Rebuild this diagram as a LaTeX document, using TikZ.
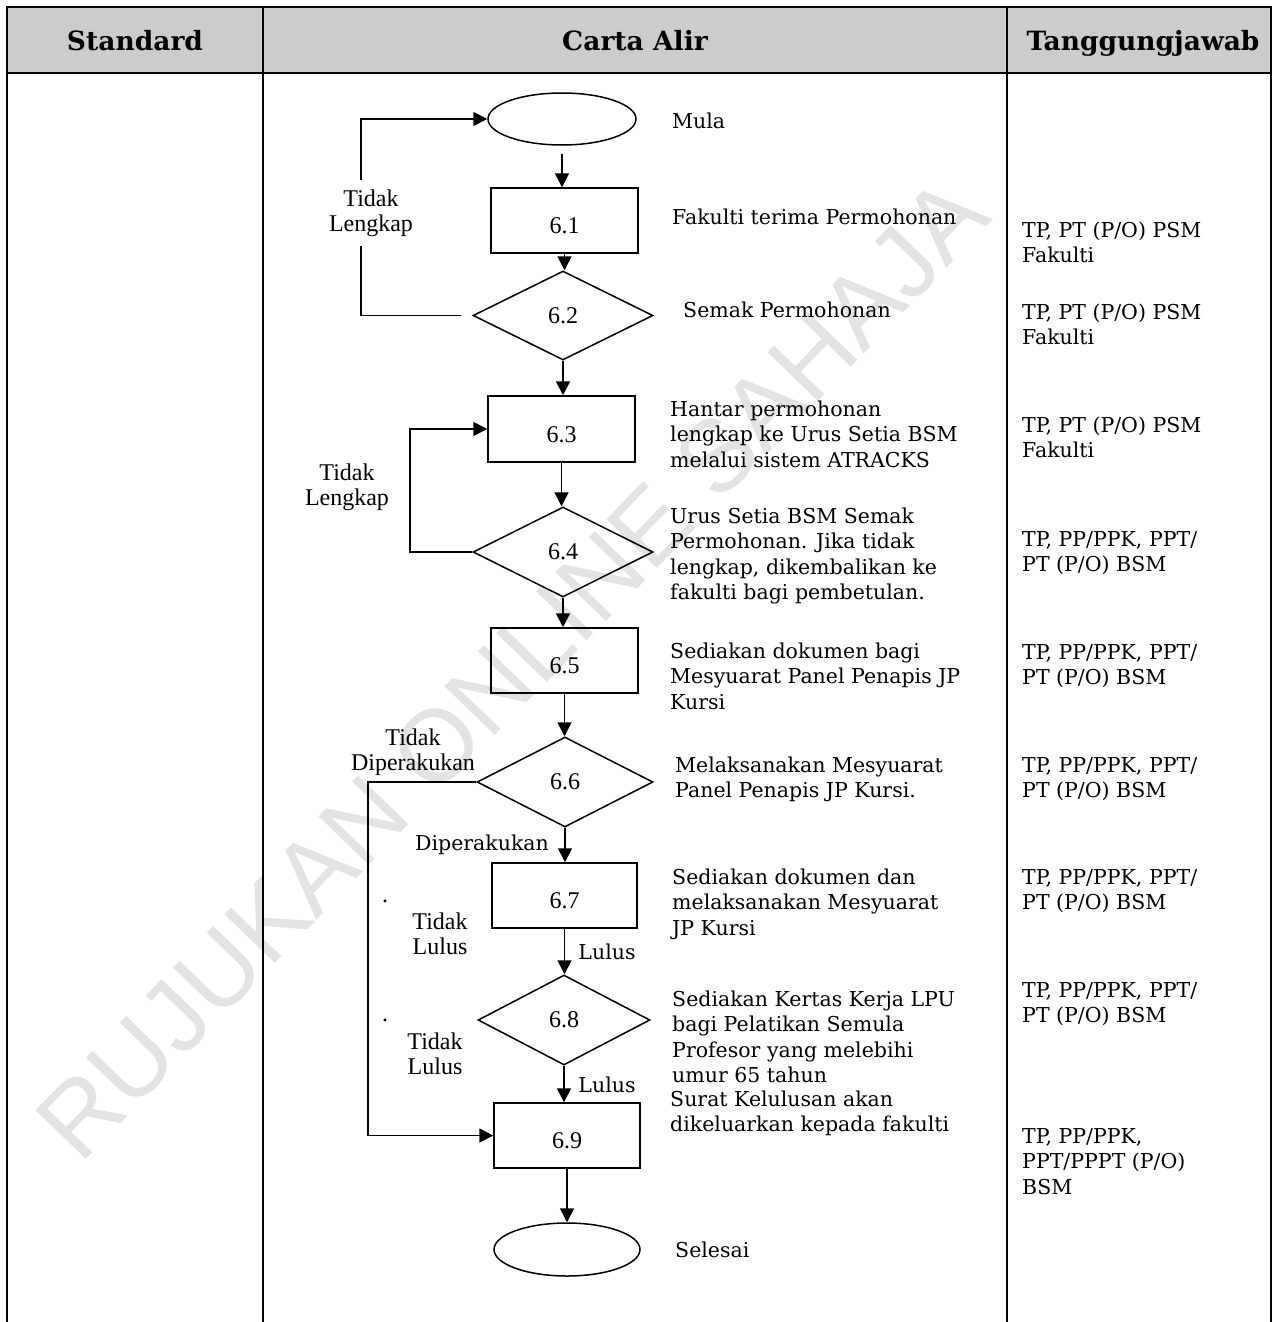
\documentclass[tikz,border=0pt]{standalone}
\usepackage{fontspec}
\setmainfont{DejaVu Serif}
\newfontfamily\tnr{Liberation Serif}
\newfontfamily\wmfont{Liberation Sans}
\usetikzlibrary{shapes.geometric,arrows.meta}
\begin{document}
\begin{tikzpicture}[x=1pt,y=-1pt,
  tbl/.style={line width=2.2pt},
  hdr/.style={font=\bfseries\fontsize{26.5}{28}\selectfont, anchor=base, inner sep=0},
  desc/.style={font=\fontsize{20.5}{25.5}\selectfont, anchor=base west, align=left, inner sep=0},
  lab/.style={font=\tnr\fontsize{24}{25}\selectfont, align=center, inner sep=0},
  blab/.style={font=\fontsize{20.5}{25.5}\selectfont, inner sep=0},
  stepbox/.style={draw, line width=1.5pt, rectangle, inner sep=0, text height=26pt, text depth=0pt, font=\tnr\fontsize{24}{25}\selectfont},
  decis/.style={draw, line width=1.5pt, diamond, inner sep=0, font=\tnr\fontsize{24}{25}\selectfont},
  term/.style={draw, line width=1.5pt, ellipse, inner sep=0},
  arr/.style={line width=1.6pt, -{Triangle[length=14pt,width=14pt]}},
  ln/.style={line width=1.6pt}
]
\useasboundingbox (0,0) rectangle (1276,1322);
% watermark
\node[rotate=46, text=black!11, font=\wmfont\fontsize{102}{102}\selectfont, inner sep=0] (wmk) at (512,668) {RUJUKAN ONLINE SAHAJA};
% table
\fill[black!20] (7,7) rectangle (1271,73);
\draw[tbl] (7,1322) -- (7,7) -- (1271,7) -- (1271,1322);
\draw[tbl] (7,73) -- (1271,73);
\draw[tbl] (263,7) -- (263,1322);
\draw[tbl] (1007,7) -- (1007,1322);
\node[hdr] (h1) at (135,51) {Standard};
\node[hdr] (h2) at (635,51) {Carta Alir};
\node[hdr] (h3) at (1143,51) {Tanggungjawab};

% flowchart shapes
\node[term, minimum width=148pt, minimum height=52pt] (mula) at (562,119) {};
\node[stepbox, minimum width=147pt, minimum height=65pt] (b61) at (564.5,220.5) {6.1};
\node[decis, minimum width=180pt, minimum height=89pt] (d62) at (563,315.5) {6.2};
\node[stepbox, minimum width=147pt, minimum height=66pt] (b63) at (561.5,429) {6.3};
\node[decis, minimum width=180pt, minimum height=90pt] (d64) at (563,552) {6.4};
\node[stepbox, minimum width=147pt, minimum height=65pt] (b65) at (564.5,660.5) {6.5};
\node[decis, minimum width=176pt, minimum height=90pt] (d66) at (565,782) {6.6};
\node[stepbox, minimum width=145pt, minimum height=65pt] (b67) at (564.5,895.5) {6.7};
\node[decis, minimum width=172pt, minimum height=90pt] (d68) at (564,1020) {6.8};
\node[stepbox, minimum width=146pt, minimum height=65pt] (b69) at (567,1135.5) {6.9};
\node[term, minimum width=146pt, minimum height=53pt] (selesai) at (567,1249.5) {};

% main arrows
\draw[arr, shorten <=8pt] (mula.south) -- (mula.south |- b61.north);
\draw[arr] (b61.south) -- (b61.south |- d62.north);
\draw[arr] (d62.south) -- (d62.south |- b63.north);
\draw[arr] (b63.south) -- (b63.south |- d64.north);
\draw[arr] (d64.south) -- (d64.south |- b65.north);
\draw[arr] (b65.south) -- (b65.south |- d66.north);
\draw[arr] (d66.south) -- (d66.south |- b67.north);
\draw[arr] (b67.south) -- (b67.south |- d68.north);
\draw[arr] (d68.south) -- (d68.south |- b69.north);
\draw[arr] (b69.south) -- (b69.south |- selesai.north);

% loops
\draw[arr] ([xshift=-11pt]d62.west) -- (361,315.5) |- (mula.west);
\node[lab, fill=white, inner xsep=2pt, inner ysep=10pt] (tl1) at (371,213) {Tidak\\Lengkap};
\draw[arr] (d64.west) -- (410,552) |- (b63.west);
\node[lab] (tl2) at (347,487) {Tidak\\Lengkap};
\draw[arr] (d66.west) -- (368,782) |- (b69.west);
\node[lab] (td) at (413,752) {Tidak\\Diperakukan};

% branch labels
\node[blab] (dp) at (482,845) {Diperakukan};
\node[lab, anchor=base] (dot1) at (385,902) {.};
\node[lab, anchor=base] (dot2) at (385,1021) {.};
\node[lab] (tlu1) at (440,934) {Tidak\\Lulus};
\node[lab] (tlu2) at (435,1054) {Tidak\\Lulus};
\node[blab] (lu1) at (607,952) {Lulus};
\node[blab] (lu2) at (607,1085) {Lulus};

% descriptions (anchor = baseline of last line)
\node[desc] (t0) at (672,128) {Mula};
\node[desc] (t1) at (672,224) {Fakulti terima Permohonan};
\node[desc] (t2) at (683,317) {Semak Permohonan};
\node[desc] (t3) at (670,467) {Hantar permohonan\\lengkap ke Urus Setia BSM\\melalui sistem ATRACKS};
\node[desc] (t4) at (670,599.5) {Urus Setia BSM Semak\\Permohonan. Jika tidak\\lengkap, dikembalikan ke\\fakulti bagi pembetulan.};
\node[desc] (t5) at (670,709) {Sediakan dokumen bagi\\Mesyuarat Panel Penapis JP\\Kursi};
\node[desc] (t6) at (675,797.5) {Melaksanakan Mesyuarat\\Panel Penapis JP Kursi.};
\node[desc] (t7) at (672,935) {Sediakan dokumen dan\\melaksanakan Mesyuarat\\JP Kursi};
\node[desc] (t8) at (672,1082.5) {Sediakan Kertas Kerja LPU\\bagi Pelatikan Semula\\Profesor yang melebihi\\umur 65 tahun};
\node[desc] (t9) at (670,1131.5) {Surat Kelulusan akan\\dikeluarkan kepada fakulti};
\node[desc] (t10) at (675,1257) {Selesai};

% responsibilities
\node[desc] (r1) at (1022,262.5) {TP, PT (P/O) PSM\\Fakulti};
\node[desc] (r2) at (1022,344.5) {TP, PT (P/O) PSM\\Fakulti};
\node[desc] (r3) at (1022,457.5) {TP, PT (P/O) PSM\\Fakulti};
\node[desc] (r4) at (1022,571.5) {TP, PP/PPK, PPT/\\PT (P/O) BSM};
\node[desc] (r5) at (1022,684.5) {TP, PP/PPK, PPT/\\PT (P/O) BSM};
\node[desc] (r6) at (1022,797.5) {TP, PP/PPK, PPT/\\PT (P/O) BSM};
\node[desc] (r7) at (1022,909.5) {TP, PP/PPK, PPT/\\PT (P/O) BSM};
\node[desc] (r8) at (1022,1022.5) {TP, PP/PPK, PPT/\\PT (P/O) BSM};
\node[desc] (r9) at (1022,1194) {TP, PP/PPK,\\PPT/PPPT (P/O)\\BSM};
\end{tikzpicture}
\end{document}
